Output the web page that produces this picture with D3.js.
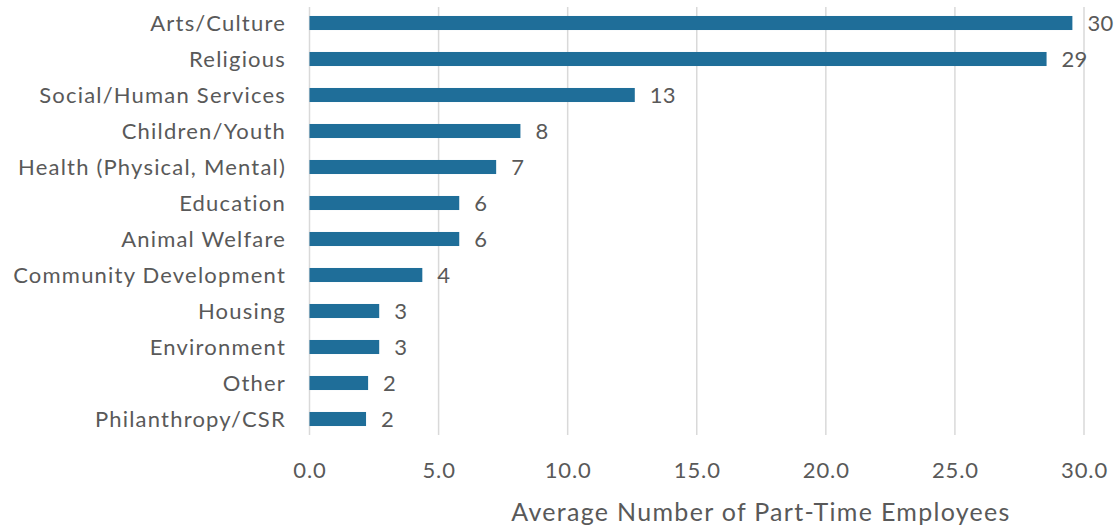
<!DOCTYPE html>
<html>
<head>
<meta charset="utf-8">
<script src="https://cdn.jsdelivr.net/npm/d3@7"></script>
<style>
  html, body { margin: 0; padding: 0; background: #fff; }
  svg { display: block; }
  text { font-family: Lato, "Noto Sans", sans-serif; fill: #595959; font-weight: 400; }
</style>
</head>
<body>
<svg id="chart" width="1119" height="527"></svg>
<script>
// Average number of part-time employees by organisation focus
const categories = [
  "Arts/Culture", "Religious", "Social/Human Services", "Children/Youth",
  "Health (Physical, Mental)", "Education", "Animal Welfare",
  "Community Development", "Housing", "Environment", "Other", "Philanthropy/CSR"
];
const values = [29.55, 28.55, 12.6, 8.17, 7.23, 5.8, 5.8, 4.37, 2.7, 2.7, 2.27, 2.19];
const tickValues = [0, 5, 10, 15, 20, 25, 30];
const axisTitle = "Average Number of Part-Time Employees";

const svg = d3.select("#chart");
const margin = { left: 309.5, right: 35, top: 5, bottom: 90 };
const W = 1119, H = 527;

const x = d3.scaleLinear().domain([0, 30]).range([margin.left, W - margin.right]);
const y = d3.scaleBand().domain(categories).range([margin.top, H - margin.bottom]).paddingInner(0.61).paddingOuter(0.305);

// vertical gridlines
svg.append("g").selectAll("line").data(tickValues).join("line")
  .attr("x1", d => x(d)).attr("x2", d => x(d))
  .attr("y1", 7).attr("y2", 435)
  .attr("stroke", "#d9d9d9").attr("stroke-width", 1.5);

// bars
svg.append("g").selectAll("rect").data(values).join("rect")
  .attr("x", x(0)).attr("y", (d, i) => y(categories[i]))
  .attr("width", d => x(d) - x(0)).attr("height", y.bandwidth())
  .attr("fill", "#1f6e99");

// value labels
svg.append("g").selectAll("text").data(values).join("text")
  .attr("x", d => x(d) + 15).attr("y", (d, i) => y(categories[i]) + y.bandwidth() / 2)
  .attr("dy", "0.36em").style("font-size", "22px").style("letter-spacing", "0.3px")
  .text(d => d3.format(".0f")(d));

// category labels
svg.append("g").selectAll("text").data(categories).join("text")
  .attr("x", 286).attr("y", d => y(d) + y.bandwidth() / 2)
  .attr("dy", "0.36em").attr("text-anchor", "end")
  .style("font-size", "22px").style("letter-spacing", "1.2px")
  .text(d => d);

// x axis tick labels
const axis = d3.axisBottom(x).tickValues(tickValues).tickFormat(d3.format(".1f")).tickSize(0).tickPadding(0);
const ax = svg.append("g").attr("transform", `translate(0, 470)`).call(axis);
ax.select(".domain").remove();
ax.selectAll("text").attr("dy", "0.36em").attr("y", 0)
  .style("font-size", "22px").style("letter-spacing", "0.9px")
  .style("font-family", "Lato, 'Noto Sans', sans-serif").style("font-weight", "400")
  .attr("fill", "#595959");

// axis title
svg.append("text").attr("x", 761).attr("y", 512).attr("dy", "0.36em")
  .attr("text-anchor", "middle").style("font-size", "25px").style("letter-spacing", "1.3px")
  .text(axisTitle);
</script>
</body>
</html>
